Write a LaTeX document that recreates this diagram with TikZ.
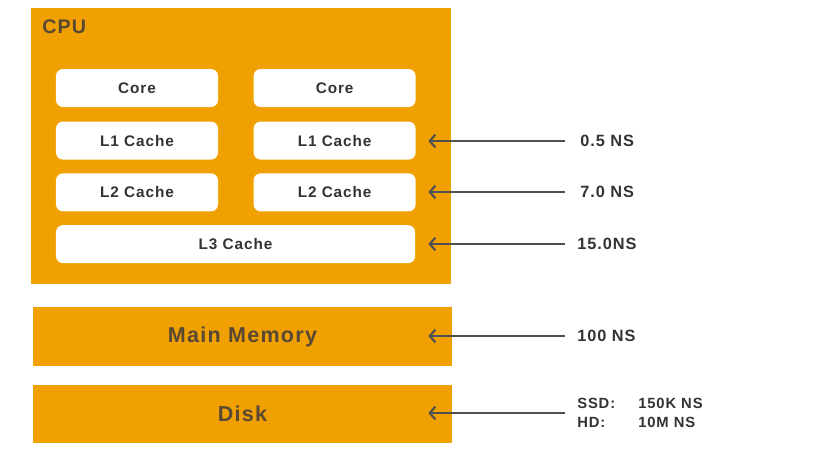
\documentclass[tikz,border=0pt]{standalone}
\usepackage{fontspec}
\setmainfont{Liberation Sans}
\newfontfamily\spacedfont{Liberation Sans}[LetterSpace=6]
\usetikzlibrary{positioning}
\usetikzlibrary{arrows.meta}
\definecolor{cpuorange}{RGB}{240,160,0}
\definecolor{boxtext}{RGB}{51,51,51}
\definecolor{titletext}{RGB}{88,72,52}
\definecolor{arrowgray}{RGB}{80,80,80}
\tikzstyle{unit} = [rectangle, fill=cpuorange, draw=none, inner sep=0pt]
\tikzstyle{cachebox} = [rectangle, rounded corners=5pt,
minimum width=4.05cm,
minimum height=0.95cm,
fill=white,
text=boxtext,
font=\spacedfont\bfseries\fontsize{10.9}{13}\selectfont]
\tikzstyle{latency} = [anchor=west, inner sep=0pt, text=boxtext,
font=\spacedfont\bfseries\fontsize{11.6}{13.5}\selectfont]
\tikzstyle{arrow} = [line width=1.5pt, arrowgray, -{Straight Barb[length=4pt,width=9pt]}]

\begin{document}
\begin{tikzpicture}[x=0.025cm, y=-0.025cm]
    \useasboundingbox (0,0) rectangle (813,450);

    % cpu and its caches
    \node[unit, minimum width=10.5cm, minimum height=6.9cm] (cpu) at (241,146) {};
    \node[anchor=west, inner sep=0pt, text=titletext, font=\spacedfont\bfseries\fontsize{14}{16}\selectfont] (cputitle) at (42,27) {CPU};

    \node[cachebox] (core1) at (137,88) {Core};
    \node[cachebox] (core2) [right=0.875cm of core1] {Core};
    \node[cachebox] (l1a) [below=0.35cm of core1] {L1 Cache};
    \node[cachebox] (l1b) [below=0.35cm of core2] {L1 Cache};
    \node[cachebox] (l2a) [below=0.33cm of l1a] {L2 Cache};
    \node[cachebox] (l2b) [below=0.33cm of l1b] {L2 Cache};
    \node[cachebox, minimum width=8.975cm] (l3) [below=0.33cm of l2a.south west, anchor=north west] {L3 Cache};

    % memory and disk
    \node[unit, minimum width=10.475cm, minimum height=1.475cm, text=titletext,
        font=\spacedfont\bfseries\fontsize{15.3}{18}\selectfont] (mem) at (242.5,336.5) {Main Memory};
    \node[unit, minimum width=10.475cm, minimum height=1.45cm, text=titletext,
        font=\spacedfont\bfseries\fontsize{15.3}{18}\selectfont] (disk) [below=0.45cm of mem] {Disk};

    % latencies
    \node[latency] (lat1) at (580,141) {0.5 NS};
    \node[latency] (lat2) at (580,192) {7.0 NS};
    \node[latency] (lat3) at (577,244) {15.0NS};
    \node[latency] (latmem) at (577,336) {100 NS};
    \node[latency, align=left, font=\spacedfont\bfseries\fontsize{10.5}{13.5}\selectfont] (latdisk) at (577,413)
        {\makebox[1.525cm][l]{SSD:}150K NS\\\makebox[1.525cm][l]{HD:}10M NS};

    \draw[arrow] ([xshift=-0.375cm]lat1.west) -- ([xshift=-0.575cm]lat1.west -| cpu.east);
    \draw[arrow] ([xshift=-0.375cm]lat2.west) -- ([xshift=-0.575cm]lat2.west -| cpu.east);
    \draw[arrow] ([xshift=-0.3cm]lat3.west) -- ([xshift=-0.575cm]lat3.west -| cpu.east);
    \draw[arrow] ([xshift=-0.3cm]latmem.west) -- ([xshift=-0.6cm]latmem.west -| mem.east);
    \draw[arrow] ([xshift=-0.3cm]latdisk.west) -- ([xshift=-0.6cm]latdisk.west -| disk.east);
\end{tikzpicture}
\end{document}
